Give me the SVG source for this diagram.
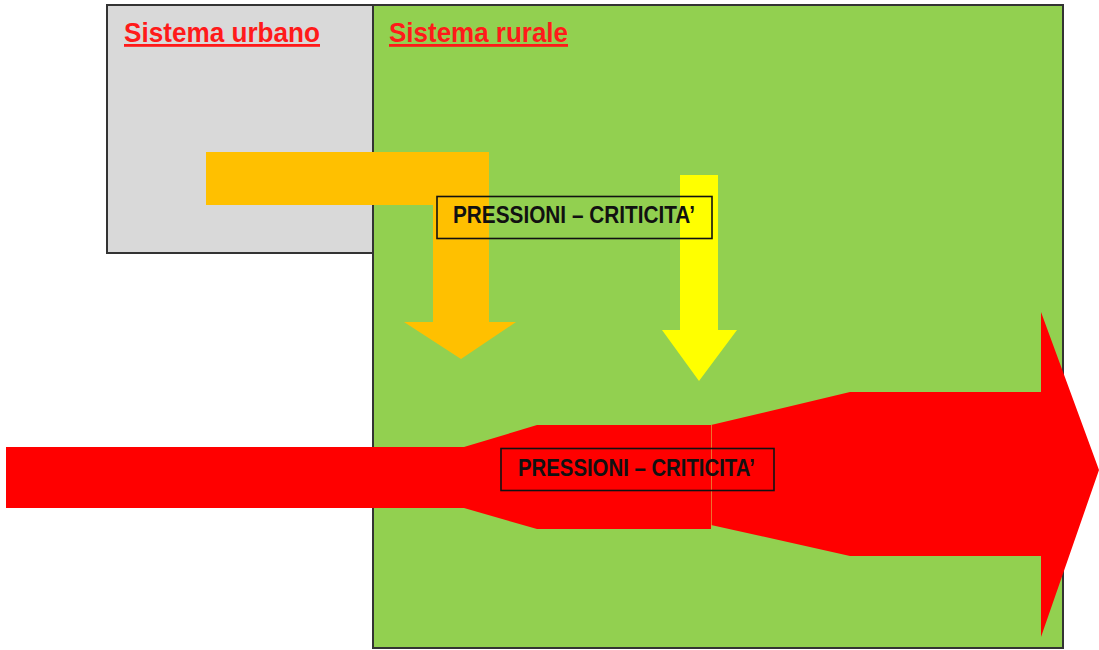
<svg xmlns="http://www.w3.org/2000/svg" width="1099" height="650" viewBox="0 0 1099 650">
  <style>
    .box { stroke: #333333; stroke-width: 2; }
    .title { font-family: "Liberation Sans", Arial, sans-serif; font-weight: bold; font-size: 28px; fill: #ff1a1a; text-decoration: underline; }
    .label { font-family: "Liberation Sans", Arial, sans-serif; font-weight: bold; font-size: 23px; fill: #111111; }
    .lbox { fill: none; stroke: #111111; stroke-width: 1.6; }
  </style>
  <rect x="0" y="0" width="1099" height="650" fill="#ffffff"/>
  <g id="sistema-urbano">
    <rect class="box" x="107" y="5" width="267" height="248" fill="#d9d9d9"/>
    <text class="title" x="124" y="42" textLength="196" lengthAdjust="spacingAndGlyphs">Sistema urbano</text>
  </g>
  <g id="sistema-rurale">
    <rect class="box" x="373" y="5" width="690" height="643" fill="#92d050"/>
    <text class="title" x="389" y="42" textLength="179" lengthAdjust="spacingAndGlyphs">Sistema rurale</text>
  </g>
  <g id="connectors">
    <g id="red-arrow" fill="#ff0000">
      <polygon points="6,447 464,447 537,425 711,425 711,529 537,529 464,508 6,508"/>
      <polygon points="711,425 850,392 1041,392 1041,312 1099,470 1041,637 1041,556 850,556 711,525"/>
      <line x1="711.5" y1="425" x2="711.5" y2="527" stroke="#e8a040" stroke-width="1" opacity="0.7"/>
    </g>
    <polygon id="orange-arrow" fill="#ffc000" points="206,152 489,152 489,322 516,322 461,359 404,322 433,322 433,205 206,205"/>
    <polygon id="yellow-arrow" fill="#ffff00" points="680,175 718,175 718,330 737,330 699,381 662,330 680,330"/>
  </g>
  <g id="label-pressioni-1">
    <rect class="lbox" x="437" y="196.5" width="275" height="42"/>
    <text class="label" x="453" y="223" textLength="242" lengthAdjust="spacingAndGlyphs">PRESSIONI – CRITICITA’</text>
  </g>
  <g id="label-pressioni-2">
    <rect class="lbox" x="501" y="448.5" width="273" height="42"/>
    <text class="label" x="518" y="476" textLength="237" lengthAdjust="spacingAndGlyphs">PRESSIONI – CRITICITA’</text>
  </g>
</svg>
